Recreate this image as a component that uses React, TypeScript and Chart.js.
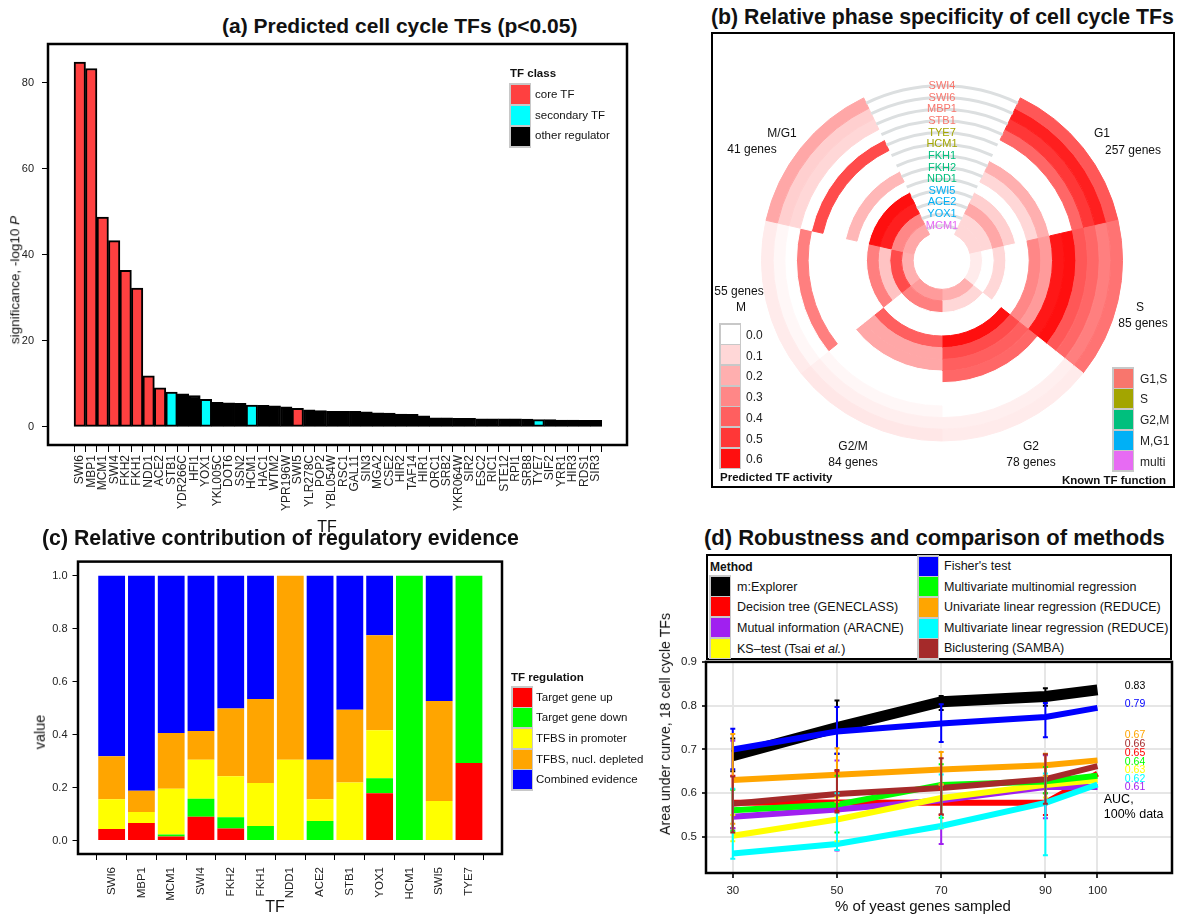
import React, { useEffect, useRef } from 'react';
import { Chart, registerables } from 'chart.js';

Chart.register(...registerables);

const FONT = '"Liberation Sans", Arial, Helvetica, sans-serif';

/* ---------------- (a) Predicted cell cycle TFs ---------------- */
const tfNamesA = ['SWI6','MBP1','MCM1','SWI4','FKH2','FKH1','NDD1','ACE2','STB1','YDR266C','HFI1','YOX1','YKL005C','DOT6','SSN2','HCM1','HAC1','WTM2','YPR196W','SWI5','YLR278C','POP2','YBL054W','RSC1','GAL11','SIN3','MGA2','CSE2','HIR2','TAF14','HIR1','ORC1','SRB2','YKR064W','SIR2','ESC2','RIC1','STE12','RPI1','SRB8','TYE7','SIF2','YRR1','HIR3','RDS1','SIR3'];
const significanceA = [84.8,83.3,48.8,43.3,36.4,32.3,11.9,9.1,8.1,7.7,7.3,6.4,5.7,5.6,5.5,5.1,5.0,4.9,4.7,4.3,4.0,3.8,3.6,3.6,3.6,3.5,3.3,3.2,3.0,2.9,2.6,2.1,2.1,2.0,2.0,1.9,1.9,1.9,1.9,1.8,1.7,1.7,1.6,1.6,1.55,1.55];
const tfClassA = ['core','core','core','core','core','core','core','core','secondary','other','other','secondary','other','other','other','secondary','other','other','other','core','other','other','other','other','other','other','other','other','other','other','other','other','other','other','other','other','other','other','other','other','secondary','other','other','other','other','other'];
const yTicksA = [0, 20, 40, 60, 80];
const classKeysA = ['core', 'secondary', 'other'];
const classLabelsA = ['core TF', 'secondary TF', 'other regulator'];
const classColorsA = ['#FF4040', '#00FFFF', '#000000'];

/* ---------------- (b) Relative phase specificity ---------------- */
const ringTFs = ['SWI4','SWI6','MBP1','STB1','TYE7','HCM1','FKH1','FKH2','NDD1','SWI5','ACE2','YOX1','MCM1'];
const ringKnownFunction = ['G1,S','G1,S','G1,S','G1,S','S','S','G2,M','G2,M','G2,M','M,G1','M,G1','M,G1','multi'];
const phaseNames = ['G1','S','G2','G2/M','M','M/G1'];
const phaseGenes = [257, 85, 78, 84, 55, 41];
const sectorWeights = [1, 1, 1, 1, 1, 1, 1]; // label gap + six phases
const activityG1  = [0.42,0.56,0.50,0.38,0,   0,   0.20,0.10,0,   0.12,0.22,0.10,0.10];
const activityS   = [0.35,0.32,0.38,0.42,0.60,0.58,0.25,0.30,0,   0,   0.10,0,   0.05];
const activityG2  = [0.05,0.04,0,   0,   0,   0.38,0.40,0.45,0.60,0,   0,   0.10,0.20];
const activityG2M = [0.06,0.04,0.02,0,   0,   0,   0.22,0.22,0.40,0,   0,   0.32,0.25];
const activityM   = [0.05,0.02,0,   0.32,0,   0,   0,   0,   0,   0.32,0.15,0.45,0.20];
const activityMG1 = [0.22,0.12,0.10,0,   0.45,0,   0,   0.18,0,   0.60,0.56,0.30,0.22];
const activityLegend = [0, 0.1, 0.2, 0.3, 0.4, 0.5, 0.6];
const functionKeys = ['G1,S', 'S', 'G2,M', 'M,G1', 'multi'];
const functionColors = ['#F8766D', '#A3A500', '#00BF7D', '#00B0F6', '#E76BF3'];

/* ---------------- (c) Relative contribution ---------------- */
const tfNamesC = ['SWI6','MBP1','MCM1','SWI4','FKH2','FKH1','NDD1','ACE2','STB1','YOX1','HCM1','SWI5','TYE7'];
const targetGeneUp     = [0.043,0.066,0.015,0.090,0.045,0,    0,    0,    0,    0.178,0,   0,    0.293];
const targetGeneDown   = [0,    0,    0.008,0.068,0.043,0.055,0,    0.074,0,    0.057,1.0, 0,    0.707];
const tfbsInPromoter   = [0.113,0.042,0.172,0.147,0.155,0.162,0.305,0.082,0.219,0.181,0,   0.149,0];
const tfbsNuclDepleted = [0.162,0.080,0.211,0.108,0.255,0.317,0.695,0.149,0.275,0.359,0,   0.378,0];
const combinedEvidence = [0.682,0.812,0.594,0.587,0.502,0.466,0,    0.695,0.506,0.225,0,   0.473,0];
const yTicksC = [0, 0.2, 0.4, 0.6, 0.8, 1.0];
const regulationLabels = ['Target gene up', 'Target gene down', 'TFBS in promoter', 'TFBS, nucl. depleted', 'Combined evidence'];
const regulationColors = ['#FF0000', '#00FF00', '#FFFF00', '#FFA500', '#0000FF'];

/* ---------------- (d) Robustness ---------------- */
const sampledPct = [30, 50, 70, 90, 100];
const yTicksD = [0.5, 0.6, 0.7, 0.8, 0.9];
const aucMExplorer    = [0.686, 0.750, 0.809, 0.821, 0.836];
const aucDecisionTree = [0.578, 0.579, 0.578, 0.578, 0.645];
const aucMutualInfo   = [0.546, 0.563, 0.584, 0.614, 0.614];
const aucKSTest       = [0.503, 0.540, 0.589, 0.619, 0.630];
const aucFisher       = [0.700, 0.741, 0.759, 0.774, 0.795];
const aucMultinomial  = [0.561, 0.574, 0.619, 0.627, 0.640];
const aucUnivariate   = [0.630, 0.642, 0.654, 0.664, 0.675];
const aucMultiLinear  = [0.462, 0.484, 0.525, 0.578, 0.620];
const aucBicluster    = [0.576, 0.598, 0.612, 0.632, 0.662];
const lowMExplorer    = [0.650, 0.690, 0.790, 0.800, 0.836];
const highMExplorer   = [0.725, 0.812, 0.822, 0.840, 0.836];
const lowDecisionTree = [0.520, 0.560, 0.550, 0.550, 0.645];
const highDecisionTree= [0.640, 0.650, 0.610, 0.600, 0.645];
const lowMutualInfo   = [0.520, 0.469, 0.484, 0.543, 0.614];
const highMutualInfo  = [0.720, 0.675, 0.620, 0.687, 0.614];
const lowKSTest       = [0.490, 0.490, 0.520, 0.590, 0.630];
const highKSTest      = [0.550, 0.590, 0.620, 0.640, 0.630];
const lowFisher       = [0.655, 0.690, 0.717, 0.728, 0.795];
const highFisher      = [0.747, 0.797, 0.803, 0.806, 0.795];
const lowMultinomial  = [0.514, 0.510, 0.544, 0.600, 0.640];
const highMultinomial = [0.608, 0.640, 0.666, 0.660, 0.640];
const lowUnivariate   = [0.530, 0.580, 0.620, 0.640, 0.675];
const highUnivariate  = [0.735, 0.703, 0.694, 0.690, 0.675];
const lowMultiLinear  = [0.450, 0.470, 0.520, 0.458, 0.620];
const highMultiLinear = [0.610, 0.600, 0.643, 0.645, 0.620];
const lowBicluster    = [0.510, 0.556, 0.552, 0.576, 0.662];
const highBicluster   = [0.638, 0.653, 0.680, 0.689, 0.662];
const methodNames = ['m:Explorer', 'Decision tree (GENECLASS)', 'Mutual information (ARACNE)', 'KS\u2013test (Tsai et al.)', "Fisher's test", 'Multivariate multinomial regression', 'Univariate linear regression (REDUCE)', 'Multivariate linear regression (REDUCE)', 'Biclustering (SAMBA)'];
const methodColors = ['#000000', '#FF0000', '#A020F0', '#FFFF00', '#0000FF', '#00FF00', '#FFA500', '#00FFFF', '#A52A2A'];
const aucFullData = [0.83, 0.65, 0.61, 0.63, 0.79, 0.64, 0.67, 0.62, 0.66];
const aucLabelY = [0.844, 0.803, 0.732, 0.712, 0.692, 0.672, 0.653, 0.633, 0.614];

/* ---------------- helpers ---------------- */
function activityColor(v: number) {
  const t = Math.max(0, Math.min(1, v / 0.6));
  const g = Math.round(255 - 240 * t);
  return `rgb(255,${g},${g})`;
}

const framePlugin = {
  id: 'frame',
  afterDraw(chart: any) {
    const { ctx, chartArea: a } = chart;
    ctx.save();
    ctx.strokeStyle = '#000';
    ctx.lineWidth = 2.5;
    ctx.strokeRect(a.left, a.top, a.right - a.left, a.bottom - a.top);
    ctx.restore();
  },
};

function tickGrid(len: number, color = '#000') {
  return { drawOnChartArea: false, drawTicks: true, tickLength: len, color, lineWidth: 1 };
}

function ChartCanvas({ left, top, width, height, make }: any) {
  const ref = useRef<HTMLCanvasElement>(null);
  useEffect(() => {
    const chart = new Chart(ref.current as HTMLCanvasElement, make());
    return () => chart.destroy();
  }, []);
  return (
    <canvas ref={ref} width={width} height={height}
      style={{ position: 'absolute', left, top, width, height }} />
  );
}

function Txt({ x, y, children, size = 12, bold = false, align = 'center', rot = 0, color = '#111', italic = false }: any) {
  const tx = align === 'center' ? '-50%' : align === 'right' ? '-100%' : '0';
  return (
    <div style={{
      position: 'absolute', left: x, top: y, whiteSpace: 'nowrap',
      transform: `translate(${tx}, -50%) rotate(${rot}deg)`,
      fontSize: size, fontWeight: bold ? 700 : 400, fontStyle: italic ? 'italic' : 'normal',
      color, lineHeight: 1, fontFamily: FONT,
    }}>{children}</div>
  );
}

function SwatchStack({ left, top, colors, size = 19, width = 22 }: any) {
  return (
    <div style={{ position: 'absolute', left, top, width, background: '#c8c8c8', padding: 1.5, boxSizing: 'border-box' }}>
      {colors.map((c: string, i: number) => (
        <div key={i} style={{ height: size, background: c, marginTop: i ? 1.5 : 0 }} />
      ))}
    </div>
  );
}

/* ---------------- chart configs ---------------- */
function makeA(): any {
  return {
    type: 'bar',
    data: {
      datasets: [{
        data: tfNamesA.map((_, i) => ({ x: i, y: significanceA[i] })),
        backgroundColor: tfClassA.map(c => classColorsA[classKeysA.indexOf(c)]),
        borderColor: '#000', borderWidth: 2, borderSkipped: false,
        barPercentage: 1, categoryPercentage: 1,
      }],
    },
    options: {
      animation: false, responsive: false, events: [],
      layout: { padding: { top: 44, right: 13, left: 0, bottom: 0 } },
      plugins: { legend: { display: false }, tooltip: { enabled: false } },
      scales: {
        x: {
          type: 'linear', min: -2.77, max: 47.7, offset: false,
          afterFit: (s: any) => { s.height = 85; },
          afterBuildTicks: (s: any) => { s.ticks = tfNamesA.map((_, i) => ({ value: i })); },
          ticks: { autoSkip: false, maxRotation: 90, minRotation: 90, padding: 3, color: '#222', font: { family: FONT, size: 12 }, callback: (v: any) => tfNamesA[v] ?? '' },
          grid: tickGrid(7), border: { display: false },
        },
        y: {
          min: -4.2, max: 89,
          afterFit: (s: any) => { s.width = 48; },
          afterBuildTicks: (s: any) => { s.ticks = yTicksA.map(v => ({ value: v })); },
          ticks: { padding: 8, color: '#222', font: { family: FONT, size: 11 } },
          grid: tickGrid(6), border: { display: false },
        },
      },
    },
    plugins: [framePlugin],
  };
}

const ringPlugin = {
  id: 'ringDecor',
  afterDatasetsDraw(chart: any) {
    const ctx = chart.ctx;
    ctx.save();
    const geo = chart.data.datasets.map((_: any, d: number) => {
      const arc = chart.getDatasetMeta(d).data[0];
      return arc.getProps(['x', 'y', 'startAngle', 'endAngle', 'innerRadius', 'outerRadius'], true);
    });
    geo.forEach((p: any) => {
      const r = (p.innerRadius + p.outerRadius) / 2;
      ctx.beginPath();
      ctx.arc(p.x, p.y, r, p.startAngle, p.endAngle);
      ctx.strokeStyle = '#dcdfe0';
      ctx.lineWidth = 3;
      ctx.stroke();
    });
    ctx.font = `11px ${FONT}`;
    ctx.textAlign = 'center';
    ctx.textBaseline = 'middle';
    geo.forEach((p: any, d: number) => {
      const r = (p.innerRadius + p.outerRadius) / 2;
      ctx.fillStyle = functionColors[functionKeys.indexOf(ringKnownFunction[d])];
      ctx.fillText(ringTFs[d], p.x, p.y - r);
    });
    ctx.restore();
  },
};

function makeB(): any {
  const byPhase = [activityG1, activityS, activityG2, activityG2M, activityM, activityMG1];
  const total = sectorWeights.reduce((a, b) => a + b, 0);
  return {
    type: 'doughnut',
    data: {
      labels: ['', ...phaseNames],
      datasets: ringTFs.map((_, d) => {
        const colors = ['rgba(0,0,0,0)', ...byPhase.map(arr => activityColor(arr[d]))];
        return { data: sectorWeights, backgroundColor: colors, borderColor: colors, borderWidth: 1, hoverOffset: 0 };
      }),
    },
    options: {
      animation: false, responsive: false, events: [],
      cutout: '16%',
      rotation: -180 * sectorWeights[0] / total,
      layout: { padding: { left: 50, right: 52, top: 47.5, bottom: 46.5 } },
      plugins: { legend: { display: false }, tooltip: { enabled: false } },
    },
    plugins: [ringPlugin],
  };
}

function makeC(): any {
  const series = [targetGeneUp, targetGeneDown, tfbsInPromoter, tfbsNuclDepleted, combinedEvidence];
  return {
    type: 'bar',
    data: {
      datasets: series.map((arr, k) => ({
        label: regulationLabels[k],
        data: tfNamesC.map((_, i) => ({ x: i, y: arr[i] })),
        backgroundColor: regulationColors[k],
        borderWidth: 0,
        barPercentage: 0.9, categoryPercentage: 1,
      })),
    },
    options: {
      animation: false, responsive: false, events: [],
      layout: { padding: { top: 10, right: 138, left: 0, bottom: 0 } },
      plugins: { legend: { display: false }, tooltip: { enabled: false } },
      scales: {
        x: {
          type: 'linear', stacked: true, min: -1.13, max: 13.11, offset: false,
          afterFit: (s: any) => { s.height = 62; },
          afterBuildTicks: (s: any) => { s.ticks = tfNamesC.map((_, i) => ({ value: i })); },
          ticks: { autoSkip: false, maxRotation: 90, minRotation: 90, padding: 7, color: '#222', font: { family: FONT, size: 11.5 }, callback: (v: any) => tfNamesC[v] ?? '' },
          grid: tickGrid(6), border: { display: false },
        },
        y: {
          stacked: true, min: -0.051, max: 1.053,
          afterFit: (s: any) => { s.width = 78; },
          afterBuildTicks: (s: any) => { s.ticks = yTicksC.map(v => ({ value: v })); },
          ticks: { padding: 5, color: '#222', font: { family: FONT, size: 11 }, callback: (v: any) => Number(v).toFixed(1) },
          grid: tickGrid(5.5), border: { display: false },
        },
      },
    },
    plugins: [framePlugin],
  };
}

const errorBarPlugin = {
  id: 'errbars',
  afterDatasetsDraw(chart: any) {
    const ctx = chart.ctx;
    const xs = chart.scales.x, ys = chart.scales.y;
    ctx.save();
    const a = chart.chartArea;
    ctx.beginPath();
    ctx.rect(a.left, a.top, a.right - a.left, a.bottom - a.top);
    ctx.clip();
    chart.data.datasets.forEach((ds: any) => {
      ctx.strokeStyle = ds.borderColor;
      ctx.lineWidth = 2;
      ds.data.forEach((pt: any, j: number) => {
        const lo = ds.errLow[j], hi = ds.errHigh[j];
        if (hi - lo < 1e-6) return;
        const px = xs.getPixelForValue(pt.x);
        const y1 = ys.getPixelForValue(lo), y2 = ys.getPixelForValue(hi);
        ctx.beginPath();
        ctx.moveTo(px, y1); ctx.lineTo(px, y2);
        ctx.moveTo(px - 2.5, y1); ctx.lineTo(px + 2.5, y1);
        ctx.moveTo(px - 2.5, y2); ctx.lineTo(px + 2.5, y2);
        ctx.stroke();
      });
    });
    ctx.restore();
  },
  afterDraw(chart: any) {
    const ctx = chart.ctx;
    const xs = chart.scales.x, ys = chart.scales.y;
    const order = aucFullData.map((v, i) => i).sort((p, q) => aucFullData[q] - aucFullData[p]);
    ctx.save();
    ctx.font = `10.5px ${FONT}`;
    ctx.textAlign = 'center';
    ctx.textBaseline = 'middle';
    order.forEach((mi, rank) => {
      ctx.fillStyle = methodColors[mi];
      ctx.fillText(aucFullData[mi].toFixed(2), xs.getPixelForValue(107.2), ys.getPixelForValue(aucLabelY[rank]));
    });
    ctx.fillStyle = '#000';
    ctx.font = `12.5px ${FONT}`;
    ctx.textAlign = 'left';
    ctx.fillText('AUC,', xs.getPixelForValue(101.2), ys.getPixelForValue(0.585));
    ctx.fillText('100% data', xs.getPixelForValue(101.2), ys.getPixelForValue(0.551));
    ctx.restore();
  },
};

function makeD(): any {
  const aucs = [aucMExplorer, aucDecisionTree, aucMutualInfo, aucKSTest, aucFisher, aucMultinomial, aucUnivariate, aucMultiLinear, aucBicluster];
  const lows = [lowMExplorer, lowDecisionTree, lowMutualInfo, lowKSTest, lowFisher, lowMultinomial, lowUnivariate, lowMultiLinear, lowBicluster];
  const highs = [highMExplorer, highDecisionTree, highMutualInfo, highKSTest, highFisher, highMultinomial, highUnivariate, highMultiLinear, highBicluster];
  return {
    type: 'line',
    data: {
      datasets: methodNames.map((name, i) => ({
        label: name,
        data: sampledPct.map((x, j) => ({ x, y: aucs[i][j] })),
        borderColor: methodColors[i],
        borderWidth: i === 0 ? 11 : 6,
        borderJoinStyle: 'round',
        pointRadius: 0, fill: false, tension: 0,
        order: methodNames.length - 1 - i,
        errLow: lows[i], errHigh: highs[i],
      })),
    },
    options: {
      animation: false, responsive: false, events: [],
      layout: { padding: { top: 8, right: 28, left: 0, bottom: 0 } },
      plugins: { legend: { display: false }, tooltip: { enabled: false } },
      scales: {
        x: {
          type: 'linear', min: 24.86, max: 114.3,
          afterFit: (s: any) => { s.height = 43; },
          afterBuildTicks: (s: any) => { s.ticks = sampledPct.map(v => ({ value: v })); },
          ticks: { padding: 6, color: '#222', font: { family: FONT, size: 11.5 } },
          grid: { color: '#e6e6e6', lineWidth: 2, tickColor: '#333', tickLength: 5 },
          border: { display: false },
        },
        y: {
          min: 0.4177, max: 0.9,
          afterFit: (s: any) => { s.width = 66; },
          afterBuildTicks: (s: any) => { s.ticks = yTicksD.map(v => ({ value: v })); },
          ticks: { padding: 5, color: '#222', font: { family: FONT, size: 11.5 }, callback: (v: any) => Number(v).toFixed(1) },
          grid: { color: '#e6e6e6', lineWidth: 2, tickColor: '#333', tickLength: 4 },
          border: { display: false },
        },
      },
    },
    plugins: [errorBarPlugin, framePlugin],
  };
}

/* ---------------- page ---------------- */
const phaseLabelPos = [
  [[1102, 133], [1133, 150]],
  [[1140, 307], [1143, 323]],
  [[1031, 446], [1031, 462]],
  [[853, 446], [853, 462]],
  [[741, 307], [739, 291]],
  [[782, 133], [752, 149]],
];

export default function App() {
  return (
    <div style={{ position: 'absolute', left: 0, top: 0, width: 1200, height: 916, background: '#fff', overflow: 'hidden', fontFamily: FONT }}>
      {/* (a) */}
      <Txt x={222} y={25} size={21} bold align="left">(a) Predicted cell cycle TFs (p&lt;0.05)</Txt>
      <ChartCanvas left={0} top={0} width={640} height={530} make={makeA} />
      <Txt x={15} y={280} size={13.5} rot={-90}>significance, -log10 <i>P</i></Txt>
      <Txt x={327} y={527} size={16}>TF</Txt>
      <Txt x={510} y={74} size={11.5} bold align="left">TF class</Txt>
      <SwatchStack left={509} top={83} colors={classColorsA} size={19.5} />
      {classLabelsA.map((l, i) => <Txt key={l} x={535} y={95 + i * 20.6} size={11.5} align="left">{l}</Txt>)}

      {/* (b) */}
      <Txt x={711} y={18} size={21.3} bold align="left">(b) Relative phase specificity of cell cycle TFs</Txt>
      <ChartCanvas left={711} top={32} width={464} height={456} make={makeB} />
      <div style={{ position: 'absolute', left: 711, top: 32, width: 464, height: 456, border: '2.5px solid #000', boxSizing: 'border-box', pointerEvents: 'none' }} />
      {phaseNames.map((ph, k) => {
        const lines = ph === 'M' ? [ph, `${phaseGenes[k]} genes`] : [ph, `${phaseGenes[k]} genes`];
        return lines.map((t, li) => (
          <Txt key={ph + li} x={phaseLabelPos[k][li][0]} y={phaseLabelPos[k][li][1]} size={12}>{t}</Txt>
        ));
      })}
      <SwatchStack left={719} top={323} colors={activityLegend.map(activityColor)} size={19.2} />
      {activityLegend.map((v, i) => <Txt key={v} x={746} y={335 + i * 20.7} size={12} align="left" color="#222">{v.toFixed(1)}</Txt>)}
      <Txt x={720} y={478} size={11.5} bold align="left">Predicted TF activity</Txt>
      <SwatchStack left={1112} top={367} colors={functionColors} size={19.2} />
      {functionKeys.map((k, i) => <Txt key={k} x={1140} y={378.5 + i * 20.8} size={12} align="left" color="#222">{k}</Txt>)}
      <Txt x={1166} y={481} size={11.5} bold align="right">Known TF function</Txt>

      {/* (c) */}
      <Txt x={42} y={539} size={21.3} bold align="left">(c) Relative contribution of regulatory evidence</Txt>
      <ChartCanvas left={0} top={550} width={640} height={366} make={makeC} />
      <Txt x={40} y={732} size={14.5} rot={-90}>value</Txt>
      <Txt x={275} y={907} size={16}>TF</Txt>
      <Txt x={511} y={678} size={11.5} bold align="left">TF regulation</Txt>
      <SwatchStack left={511} top={686} colors={regulationColors} size={19.2} />
      {regulationLabels.map((l, i) => <Txt key={l} x={536} y={697.5 + i * 20.7} size={11.5} align="left">{l}</Txt>)}

      {/* (d) */}
      <Txt x={704} y={538} size={22} bold align="left">(d) Robustness and comparison of methods</Txt>
      <div style={{ position: 'absolute', left: 706, top: 554, width: 466, height: 106, border: '2.5px solid #000', boxSizing: 'border-box' }} />
      <Txt x={710} y={567} size={12} bold align="left">Method</Txt>
      <SwatchStack left={709} top={575} colors={methodColors.slice(0, 4)} size={19.2} />
      {methodNames.slice(0, 4).map((n, i) => (
        <Txt key={n} x={737} y={586.5 + i * 20.7} size={12.5} align="left">
          {i === 3 ? <span>KS&ndash;test (Tsai <i>et al.</i>)</span> : n}
        </Txt>
      ))}
      <SwatchStack left={917} top={555} colors={methodColors.slice(4)} size={19.2} />
      {methodNames.slice(4).map((n, i) => <Txt key={n} x={944} y={566 + i * 20.6} size={12.5} align="left">{n}</Txt>)}
      <ChartCanvas left={640} top={650} width={560} height={266} make={makeD} />
      <Txt x={665} y={724} size={14.2} rot={-90}>Area under curve, 18 cell cycle TFs</Txt>
      <Txt x={923} y={905} size={15}>% of yeast genes sampled</Txt>
    </div>
  );
}
